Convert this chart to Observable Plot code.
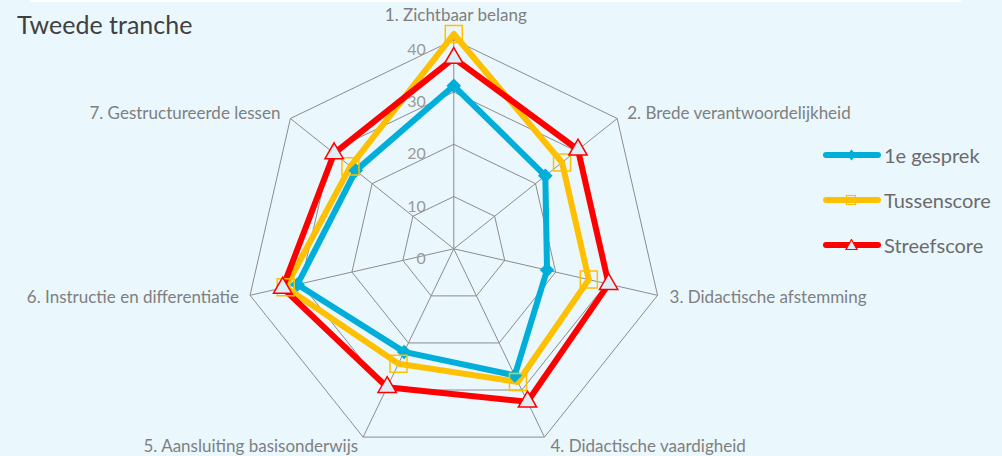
<!DOCTYPE html>
<html><head><meta charset="utf-8">
<script src="https://cdn.jsdelivr.net/npm/d3@7"></script>
<script src="https://cdn.jsdelivr.net/npm/@observablehq/plot@0.6"></script>
<style>
body{margin:0;background:#fff;}
#wrap{position:relative;width:1002px;height:456px;background:#EAF7FD;overflow:hidden;font-family:Lato,"Open Sans",sans-serif;}
#wrap svg{position:absolute;left:0;top:0;}
#strip{position:absolute;left:30px;top:0;width:931px;height:2px;background:#fff;}
#title{position:absolute;left:17px;top:9px;font-size:25px;line-height:30px;color:#404040;white-space:nowrap;}
#legend{position:absolute;left:823px;top:0;}
.row{position:absolute;left:0;height:24px;display:flex;align-items:center;white-space:nowrap;font-size:20px;color:#6B6B6B;}
.row svg{position:static !important;margin-right:3px;}
</style></head><body><div id="wrap"><div id="strip"></div><div id="title">Tweede tranche</div><div id="legend"></div></div>
<script>
const categories = ["1. Zichtbaar belang","2. Brede verantwoordelijkheid","3. Didactische afstemming","4. Didactische vaardigheid","5. Aansluiting basisonderwijs","6. Instructie en differentiatie","7. Gestructureerde lessen"];
const tickValues = [0,10,20,30,40];
const seriesNames = ["1e gesprek","Tussenscore","Streefscore"];
const eersteGesprek = [31.2,22.4,18.3,26.9,21.9,30.7,24.0];
const tussenscore = [41.1,26.5,26.5,28.3,24.4,33.0,25.3];
const streefscore = [36.5,30.4,30.4,32.5,29.4,33.6,29.3];
const seriesColors = ["#00AEDA","#FFC000","#FF0000"];

const W = 1002, H = 456, cx = 453.3, cy = 248.3, k = 5.225;
const maxV = tickValues[tickValues.length-1];
const n = categories.length;
const ang = i => i * 2 * Math.PI / n;
const px = (v,i) => v * Math.sin(ang(i));
const py = (v,i) => v * Math.cos(ang(i));

const ringPts = [];
tickValues.filter(t => t > 0).forEach(t => {
  for (let i = 0; i <= n; i++) ringPts.push({t, x: px(t, i % n), y: py(t, i % n)});
});
const spokes = categories.map((c,i) => ({c, x: px(maxV,i), y: py(maxV,i)}));

const allSeries = [eersteGesprek, tussenscore, streefscore];
const lineRows = [];
allSeries.forEach((vals, s) => {
  for (let i = 0; i <= n; i++) {
    const j = i % n;
    lineRows.push({series: seriesNames[s], i: j, value: vals[j], x: px(vals[j], j), y: py(vals[j], j)});
  }
});
const pointsOf = s => lineRows.filter(d => d.series === seriesNames[s]).slice(0, n);

const diamond = {draw(ctx, size){const s = Math.sqrt(size/2); ctx.moveTo(0,-s); ctx.lineTo(s,0); ctx.lineTo(0,s); ctx.lineTo(-s,0); ctx.closePath();}};

const labelPlacement = [
  {anchor:"middle", dx:2, dy:-24},
  {anchor:"start", dx:10, dy:-5},
  {anchor:"start", dx:12, dy:2},
  {anchor:"start", dx:6, dy:9},
  {anchor:"end", dx:-5, dy:9},
  {anchor:"end", dx:-11, dy:2},
  {anchor:"end", dx:-10, dy:-5}
];

const chart = Plot.plot({
  width: W, height: H, margin: 0,
  x: {domain: [-cx/k, (W-cx)/k], axis: null},
  y: {domain: [-(H-cy)/k, cy/k], axis: null},
  color: {domain: seriesNames, range: seriesColors},
  style: {background: "transparent", overflow: "visible", fontFamily: "Lato, 'Open Sans', sans-serif"},
  marks: [
    Plot.line(ringPts, {x: "x", y: "y", z: "t", stroke: "#8C8C8C", strokeWidth: 1}),
    Plot.link(spokes, {x1: 0, y1: 0, x2: "x", y2: "y", stroke: "#8C8C8C", strokeWidth: 1}),
    Plot.text(tickValues, {x: 0, y: d => d, text: d => String(d), textAnchor: "end", dx: -28, dy: 10, fill: "#9A9A9A", fontSize: 16}),
    Plot.line(lineRows, {x: "x", y: "y", z: "series", stroke: "series", strokeWidth: 6, strokeLinejoin: "round"}),
    Plot.dot(pointsOf(0), {x: "x", y: "y", symbol: diamond, r: 5.8, fill: seriesColors[0]}),
    Plot.dot(pointsOf(1), {x: "x", y: "y", symbol: "square", r: 9.6, fill: "none", stroke: seriesColors[1], strokeWidth: 1.5}),
    Plot.dot(pointsOf(2), {x: "x", y: "y", symbol: "triangle", r: 6.8, fill: "#DCEEF7", stroke: seriesColors[2], strokeWidth: 1.5}),
    ...categories.map((c, i) => Plot.text([spokes[i]], {x: "x", y: "y", text: d => d.c, textAnchor: labelPlacement[i].anchor, dx: labelPlacement[i].dx, dy: labelPlacement[i].dy, fill: "#7F7F7F", fontSize: 17}))
  ]
});
document.getElementById("wrap").appendChild(chart);

const legend = document.getElementById("legend");
const rowTops = [143, 188, 233];
const markerSvg = [
  '<path d="M28.5,0.5 L33,6 L28.5,11.5 L24,6 Z" fill="'+seriesColors[0]+'"/>',
  '<rect x="23.5" y="1.5" width="9" height="9" fill="none" stroke="'+seriesColors[1]+'" stroke-width="1.2"/>',
  '<path d="M28.5,0.5 L34,10.5 L23,10.5 Z" fill="#DCEEF7" stroke="'+seriesColors[2]+'" stroke-width="1.2"/>'
];
seriesNames.forEach((name, s) => {
  const row = document.createElement("div");
  row.className = "row";
  row.style.top = rowTops[s] + "px";
  row.innerHTML = '<svg width="58" height="12" viewBox="0 0 58 12"><line x1="3" y1="6" x2="55" y2="6" stroke="'+seriesColors[s]+'" stroke-width="6" stroke-linecap="round"/>' + markerSvg[s] + '</svg><span>' + name + '</span>';
  legend.appendChild(row);
});
</script></body></html>
